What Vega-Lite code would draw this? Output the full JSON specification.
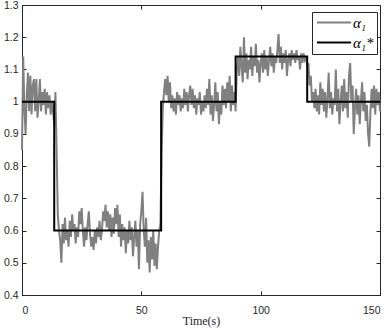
{
  "$schema": "https://vega.github.io/schema/vega-lite/v6.json",
  "width": 358,
  "height": 290,
  "autosize": {"type": "none"},
  "padding": {"left": 22, "top": 5, "right": 10, "bottom": 34},
  "background": "white",
  "config": {
    "view": {"stroke": "#262626", "strokeWidth": 1},
    "axis": {"grid": false, "domainColor": "#262626", "tickColor": "#262626", "labelColor": "#262626", "labelFont": "Liberation Sans", "labelFontSize": 10.5, "tickSize": -4, "titleFont": "Liberation Serif", "titleFontSize": 12, "titleFontWeight": "normal", "titleColor": "#262626"}
  },
  "datasets": {
    "noisy": [
      {"t":0,"v":0.85},{"t":0.5,"v":1.14},{"t":1,"v":0.98},{"t":1.5,"v":0.9},{"t":2,"v":1.02},{"t":2.5,"v":1.09},{"t":3,"v":0.97},{"t":3.5,"v":1.08},{"t":4,"v":0.96},{"t":4.5,"v":1.05},
      {"t":5,"v":1.07},{"t":5.5,"v":0.97},{"t":6,"v":1.07},{"t":6.5,"v":0.95},{"t":7,"v":1.0},{"t":7.5,"v":1.07},{"t":8,"v":0.97},{"t":8.5,"v":1.03},{"t":9,"v":0.99},{"t":9.5,"v":1.04},
      {"t":10,"v":0.96},{"t":10.5,"v":1.03},{"t":11,"v":0.98},{"t":11.5,"v":1.02},{"t":12,"v":0.96},{"t":12.5,"v":1.0},{"t":13,"v":0.97},{"t":13.5,"v":0.93},{"t":14,"v":1.03},{"t":14.5,"v":0.85},
      {"t":15,"v":0.65},{"t":15.5,"v":0.6},{"t":16,"v":0.57},{"t":16.5,"v":0.5},{"t":17,"v":0.62},{"t":17.5,"v":0.56},{"t":18,"v":0.64},{"t":18.5,"v":0.57},{"t":19,"v":0.6},{"t":19.5,"v":0.55},
      {"t":20,"v":0.63},{"t":20.5,"v":0.58},{"t":21,"v":0.65},{"t":21.5,"v":0.6},{"t":22,"v":0.62},{"t":22.5,"v":0.56},{"t":23,"v":0.61},{"t":23.5,"v":0.58},{"t":24,"v":0.66},{"t":24.5,"v":0.62},
      {"t":25,"v":0.67},{"t":25.5,"v":0.6},{"t":26,"v":0.55},{"t":26.5,"v":0.61},{"t":27,"v":0.57},{"t":27.5,"v":0.62},{"t":28,"v":0.66},{"t":28.5,"v":0.59},{"t":29,"v":0.55},{"t":29.5,"v":0.58},
      {"t":30,"v":0.54},{"t":30.5,"v":0.6},{"t":31,"v":0.56},{"t":31.5,"v":0.61},{"t":32,"v":0.58},{"t":32.5,"v":0.63},{"t":33,"v":0.57},{"t":33.5,"v":0.6},{"t":34,"v":0.66},{"t":34.5,"v":0.63},
      {"t":35,"v":0.68},{"t":35.5,"v":0.61},{"t":36,"v":0.66},{"t":36.5,"v":0.6},{"t":37,"v":0.65},{"t":37.5,"v":0.58},{"t":38,"v":0.64},{"t":38.5,"v":0.59},{"t":39,"v":0.67},{"t":39.5,"v":0.62},
      {"t":40,"v":0.68},{"t":40.5,"v":0.58},{"t":41,"v":0.65},{"t":41.5,"v":0.55},{"t":42,"v":0.62},{"t":42.5,"v":0.57},{"t":43,"v":0.61},{"t":43.5,"v":0.53},{"t":44,"v":0.6},{"t":44.5,"v":0.56},
      {"t":45,"v":0.63},{"t":45.5,"v":0.57},{"t":46,"v":0.61},{"t":46.5,"v":0.52},{"t":47,"v":0.58},{"t":47.5,"v":0.63},{"t":48,"v":0.55},{"t":48.5,"v":0.6},{"t":49,"v":0.48},{"t":49.5,"v":0.62},
      {"t":50,"v":0.66},{"t":50.5,"v":0.72},{"t":51,"v":0.6},{"t":51.5,"v":0.55},{"t":52,"v":0.64},{"t":52.5,"v":0.5},{"t":53,"v":0.57},{"t":53.5,"v":0.47},{"t":54,"v":0.58},{"t":54.5,"v":0.51},
      {"t":55,"v":0.6},{"t":55.5,"v":0.49},{"t":56,"v":0.56},{"t":56.5,"v":0.48},{"t":57,"v":0.55},{"t":57.5,"v":0.6},{"t":58,"v":0.62},{"t":58.5,"v":0.85},{"t":59,"v":0.98},{"t":59.5,"v":1.03},
      {"t":60,"v":1.07},{"t":60.5,"v":1.02},{"t":61,"v":1.08},{"t":61.5,"v":1.0},{"t":62,"v":1.06},{"t":62.5,"v":0.98},{"t":63,"v":1.02},{"t":63.5,"v":0.97},{"t":64,"v":1.01},{"t":64.5,"v":0.96},
      {"t":65,"v":1.03},{"t":65.5,"v":0.99},{"t":66,"v":1.02},{"t":66.5,"v":0.97},{"t":67,"v":1.01},{"t":67.5,"v":0.98},{"t":68,"v":1.04},{"t":68.5,"v":0.99},{"t":69,"v":1.03},{"t":69.5,"v":0.97},
      {"t":70,"v":1.02},{"t":70.5,"v":1.05},{"t":71,"v":0.99},{"t":71.5,"v":1.04},{"t":72,"v":0.98},{"t":72.5,"v":1.02},{"t":73,"v":0.96},{"t":73.5,"v":1.01},{"t":74,"v":0.99},{"t":74.5,"v":1.03},
      {"t":75,"v":0.96},{"t":75.5,"v":1.0},{"t":76,"v":0.97},{"t":76.5,"v":1.02},{"t":77,"v":0.98},{"t":77.5,"v":1.04},{"t":78,"v":0.99},{"t":78.5,"v":1.07},{"t":79,"v":0.96},{"t":79.5,"v":1.02},
      {"t":80,"v":0.94},{"t":80.5,"v":0.99},{"t":81,"v":1.06},{"t":81.5,"v":0.97},{"t":82,"v":1.03},{"t":82.5,"v":0.93},{"t":83,"v":1.0},{"t":83.5,"v":0.96},{"t":84,"v":1.05},{"t":84.5,"v":0.99},
      {"t":85,"v":1.04},{"t":85.5,"v":0.98},{"t":86,"v":1.06},{"t":86.5,"v":1.0},{"t":87,"v":1.08},{"t":87.5,"v":0.97},{"t":88,"v":1.05},{"t":88.5,"v":0.99},{"t":89,"v":1.03},{"t":89.5,"v":0.97},
      {"t":90,"v":1.1},{"t":90.5,"v":1.14},{"t":91,"v":1.08},{"t":91.5,"v":1.17},{"t":92,"v":1.11},{"t":92.5,"v":1.06},{"t":93,"v":1.2},{"t":93.5,"v":1.09},{"t":94,"v":1.15},{"t":94.5,"v":1.07},
      {"t":95,"v":1.13},{"t":95.5,"v":1.1},{"t":96,"v":1.17},{"t":96.5,"v":1.08},{"t":97,"v":1.14},{"t":97.5,"v":1.11},{"t":98,"v":1.18},{"t":98.5,"v":1.09},{"t":99,"v":1.13},{"t":99.5,"v":1.06},
      {"t":100,"v":1.12},{"t":100.5,"v":1.15},{"t":101,"v":1.09},{"t":101.5,"v":1.16},{"t":102,"v":1.1},{"t":102.5,"v":1.14},{"t":103,"v":1.08},{"t":103.5,"v":1.13},{"t":104,"v":1.17},{"t":104.5,"v":1.11},
      {"t":105,"v":1.15},{"t":105.5,"v":1.09},{"t":106,"v":1.14},{"t":106.5,"v":1.12},{"t":107,"v":1.16},{"t":107.5,"v":1.21},{"t":108,"v":1.12},{"t":108.5,"v":1.17},{"t":109,"v":1.1},{"t":109.5,"v":1.15},
      {"t":110,"v":1.12},{"t":110.5,"v":1.16},{"t":111,"v":1.08},{"t":111.5,"v":1.13},{"t":112,"v":1.15},{"t":112.5,"v":1.11},{"t":113,"v":1.16},{"t":113.5,"v":1.13},{"t":114,"v":1.15},{"t":114.5,"v":1.12},
      {"t":115,"v":1.16},{"t":115.5,"v":1.13},{"t":116,"v":1.14},{"t":116.5,"v":1.1},{"t":117,"v":1.15},{"t":117.5,"v":1.12},{"t":118,"v":1.15},{"t":118.5,"v":1.13},{"t":119,"v":1.14},{"t":119.5,"v":1.11},
      {"t":120,"v":1.12},{"t":120.5,"v":1.05},{"t":121,"v":1.08},{"t":121.5,"v":1.0},{"t":122,"v":1.03},{"t":122.5,"v":0.98},{"t":123,"v":1.04},{"t":123.5,"v":0.97},{"t":124,"v":1.02},{"t":124.5,"v":0.96},
      {"t":125,"v":1.06},{"t":125.5,"v":0.99},{"t":126,"v":1.04},{"t":126.5,"v":0.97},{"t":127,"v":1.03},{"t":127.5,"v":0.95},{"t":128,"v":1.01},{"t":128.5,"v":1.09},{"t":129,"v":0.98},{"t":129.5,"v":1.03},
      {"t":130,"v":0.96},{"t":130.5,"v":1.01},{"t":131,"v":0.99},{"t":131.5,"v":1.1},{"t":132,"v":0.97},{"t":132.5,"v":1.04},{"t":133,"v":0.93},{"t":133.5,"v":1.0},{"t":134,"v":1.05},{"t":134.5,"v":0.97},
      {"t":135,"v":1.07},{"t":135.5,"v":0.98},{"t":136,"v":1.03},{"t":136.5,"v":0.95},{"t":137,"v":1.08},{"t":137.5,"v":1.12},{"t":138,"v":1.0},{"t":138.5,"v":1.05},{"t":139,"v":0.9},{"t":139.5,"v":0.98},
      {"t":140,"v":1.04},{"t":140.5,"v":0.96},{"t":141,"v":1.02},{"t":141.5,"v":0.93},{"t":142,"v":1.0},{"t":142.5,"v":1.06},{"t":143,"v":0.97},{"t":143.5,"v":1.03},{"t":144,"v":0.94},{"t":144.5,"v":0.99},
      {"t":145,"v":0.9},{"t":145.5,"v":0.86},{"t":146,"v":0.97},{"t":146.5,"v":1.04},{"t":147,"v":0.98},{"t":147.5,"v":1.05},{"t":148,"v":0.96},{"t":148.5,"v":1.04},{"t":149,"v":0.99},{"t":149.5,"v":1.03},
      {"t":150,"v":0.97}
    ],
    "step": [
      {"t":0,"v":1},{"t":13.5,"v":0.6},{"t":58.3,"v":1},{"t":89.5,"v":1.14},{"t":119.5,"v":1},{"t":150,"v":1}
    ]
  },
  "layer": [
    {
      "data": {"name": "noisy"},
      "mark": {"type": "line", "strokeWidth": 2, "strokeJoin": "miter"},
      "encoding": {
        "x": {"field": "t", "type": "quantitative", "scale": {"domain": [0, 150], "nice": false}, "axis": {"values": [0, 50, 100, 150], "title": "Time(s)", "titlePadding": 0, "labelPadding": 14, "orient": "bottom"}},
        "y": {"field": "v", "type": "quantitative", "scale": {"domain": [0.4, 1.3], "nice": false, "zero": false}, "axis": {"values": [0.4, 0.5, 0.6, 0.7, 0.8, 0.9, 1, 1.1, 1.2, 1.3], "format": "~g", "title": null, "labelPadding": 8, "orient": "left"}},
        "color": {"datum": "α₁", "type": "nominal", "scale": {"domain": ["α₁", "α₁*"], "range": ["#808080", "#000000"]},
          "legend": {"title": null, "orient": "none", "legendX": 290, "legendY": 7, "symbolType": "M-1,0H5.2", "symbolSize": 121, "symbolStrokeWidth": 2, "labelFont": "Liberation Serif", "labelFontStyle": "italic", "labelFontSize": 15, "labelColor": "#000000", "strokeColor": "#262626", "fillColor": "white", "padding": 3, "rowPadding": 4, "labelOffset": 23}}
      }
    },
    {
      "data": {"name": "step"},
      "mark": {"type": "line", "strokeWidth": 2, "interpolate": "step-after"},
      "encoding": {
        "x": {"field": "t", "type": "quantitative", "axis": {"values": [0, 50, 100, 150], "labels": false, "title": null, "orient": "top", "domain": false}},
        "y": {"field": "v", "type": "quantitative", "axis": {"values": [0.4, 0.5, 0.6, 0.7, 0.8, 0.9, 1, 1.1, 1.2, 1.3], "labels": false, "title": null, "orient": "right", "domain": false}},
        "color": {"datum": "α₁*", "type": "nominal"}
      }
    }
  ],
  "resolve": {"axis": {"x": "independent", "y": "independent"}}
}
